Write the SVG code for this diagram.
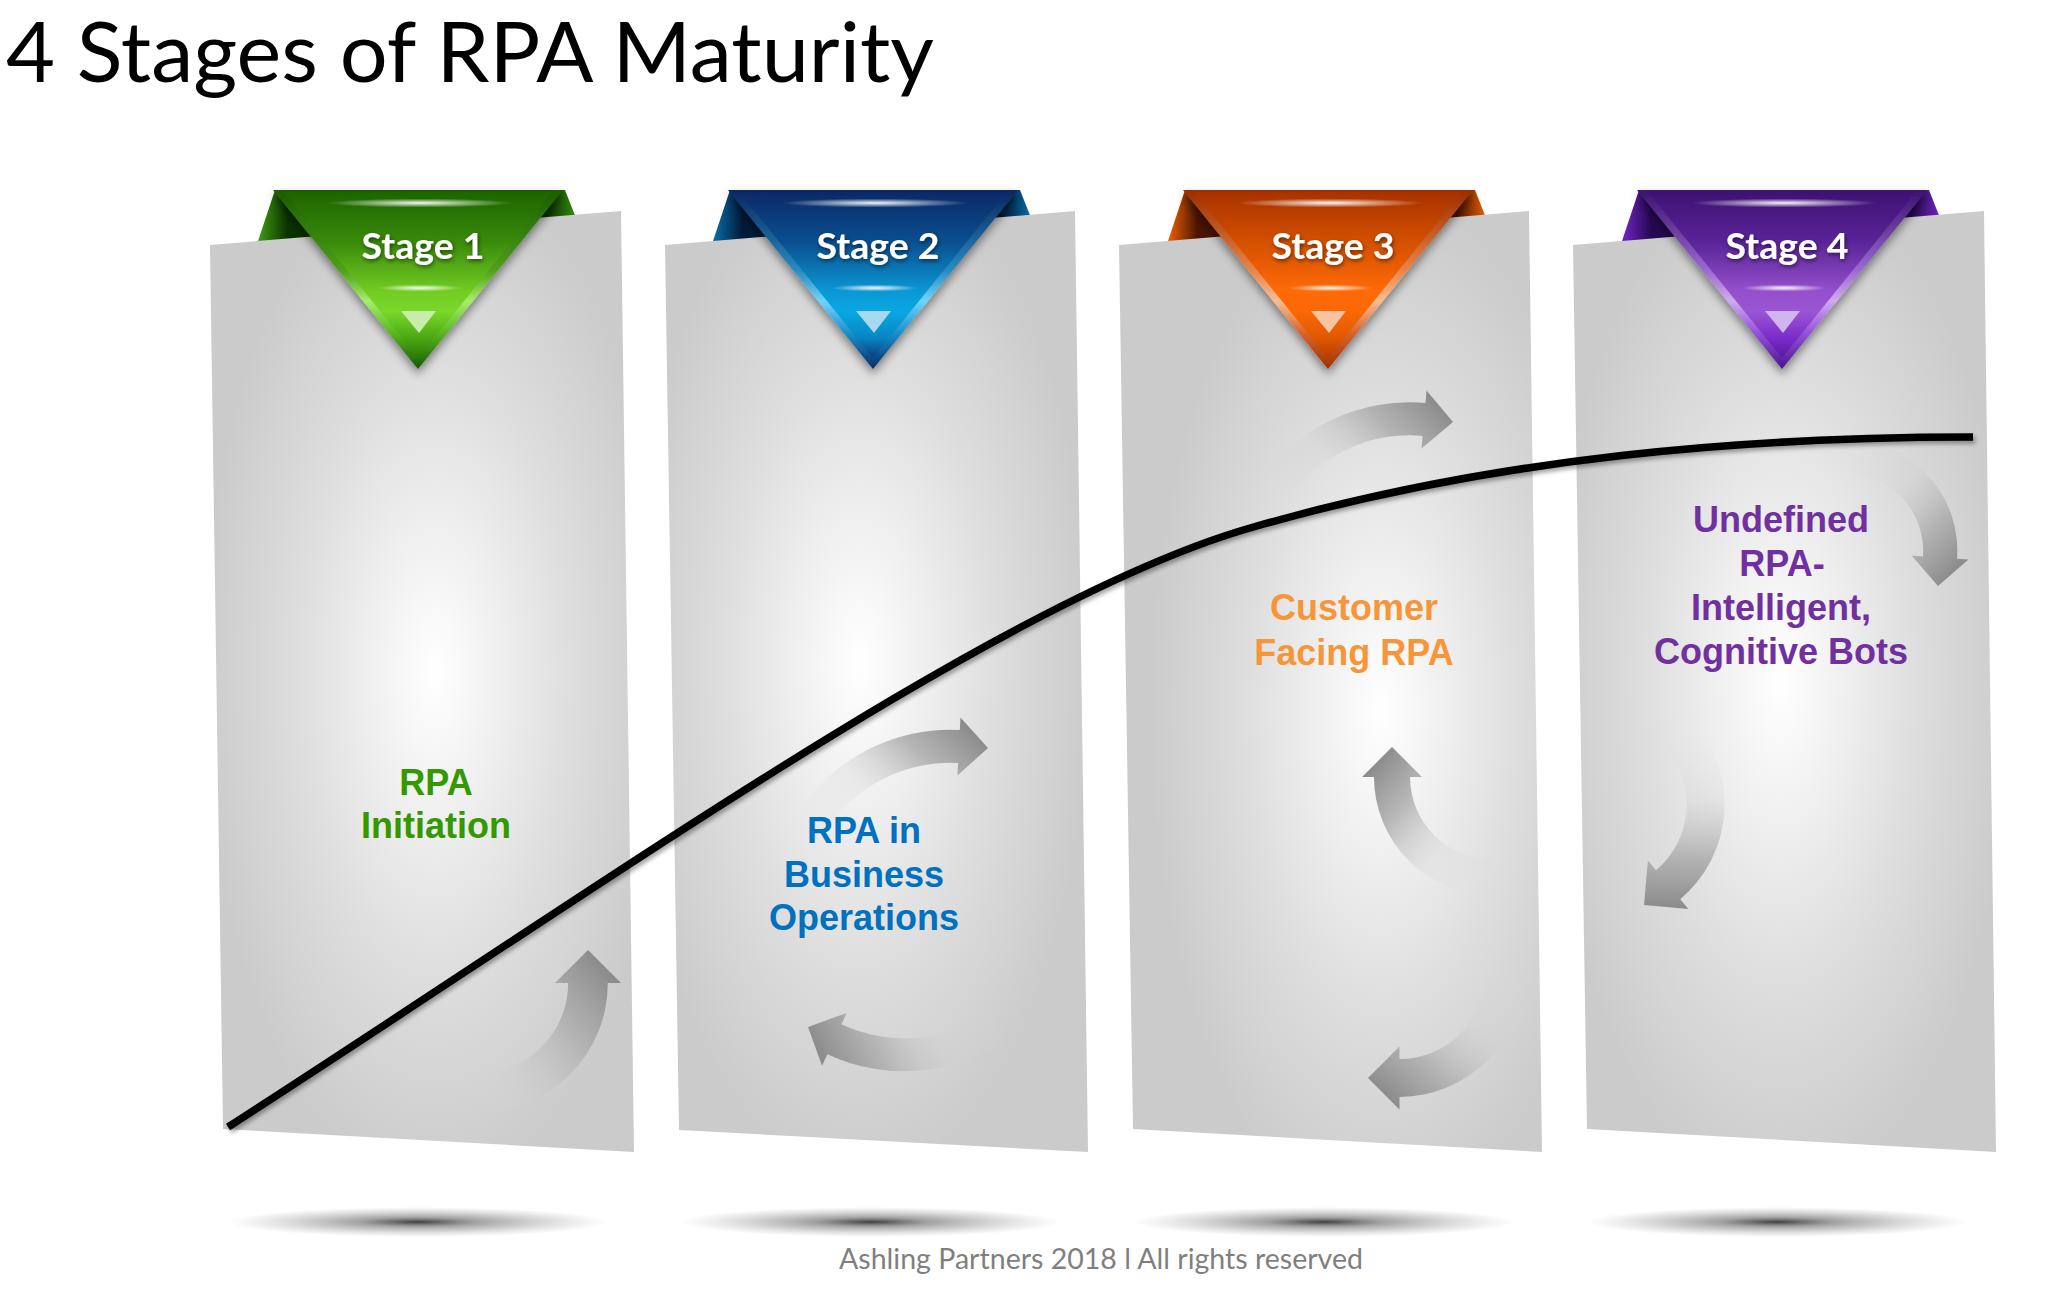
<svg xmlns="http://www.w3.org/2000/svg" width="2049" height="1293" viewBox="0 0 2049 1293">
<defs>
<style>
.title{font-family:Lato,"Liberation Sans",sans-serif;font-size:84px;fill:#000}
.stage{font-family:Lato,"Open Sans",sans-serif;font-weight:bold;font-size:37px;fill:#fff;text-anchor:middle}
.lbl{font-family:"Liberation Sans",Arial,sans-serif;font-weight:bold;font-size:36px;text-anchor:middle}
.foot{font-family:Lato,"Liberation Sans",sans-serif;font-size:29.5px;fill:#7f7f7f}
.hl{fill:url(#hlG)}
.gs{fill:url(#gsG)}
</style>
<filter id="triSh" x="-30%" y="-30%" width="160%" height="170%"><feDropShadow dx="0" dy="5" stdDeviation="5" flood-color="#000" flood-opacity="0.45"/></filter>
<filter id="txtSh" x="-20%" y="-40%" width="140%" height="180%"><feDropShadow dx="1" dy="2" stdDeviation="2" flood-color="#000" flood-opacity="0.55"/></filter>
<filter id="lineSh" x="-5%" y="-10%" width="110%" height="120%"><feDropShadow dx="2" dy="3" stdDeviation="2" flood-color="#000" flood-opacity="0.35"/></filter>
<radialGradient id="hlG"><stop offset="0" stop-color="#fff" stop-opacity="0.95"/><stop offset="1" stop-color="#fff" stop-opacity="0"/></radialGradient>
<radialGradient id="gsG"><stop offset="0" stop-color="#2a2a2a" stop-opacity="0.9"/><stop offset="0.3" stop-color="#555" stop-opacity="0.55"/><stop offset="1" stop-color="#888" stop-opacity="0"/></radialGradient>
<radialGradient id="pg1" cx="0.53" cy="0.49" fx="0.53" fy="0.49" r="0.55"><stop offset="0" stop-color="#fff"/><stop offset="0.25" stop-color="#f1f1f1"/><stop offset="0.6" stop-color="#dddddd"/><stop offset="1" stop-color="#cbcbcb"/></radialGradient>
<radialGradient id="pg2" cx="0.46" cy="0.48" fx="0.46" fy="0.48" r="0.55"><stop offset="0" stop-color="#fff"/><stop offset="0.25" stop-color="#f1f1f1"/><stop offset="0.6" stop-color="#dddddd"/><stop offset="1" stop-color="#cbcbcb"/></radialGradient>
<radialGradient id="pg3" cx="0.62" cy="0.53" fx="0.62" fy="0.53" r="0.55"><stop offset="0" stop-color="#fff"/><stop offset="0.25" stop-color="#f1f1f1"/><stop offset="0.6" stop-color="#dddddd"/><stop offset="1" stop-color="#cbcbcb"/></radialGradient>
<radialGradient id="pg4" cx="0.49" cy="0.5" fx="0.49" fy="0.5" r="0.55"><stop offset="0" stop-color="#fff"/><stop offset="0.25" stop-color="#f1f1f1"/><stop offset="0.6" stop-color="#dddddd"/><stop offset="1" stop-color="#cbcbcb"/></radialGradient>
<linearGradient id="gT" x1="0.1" y1="1" x2="0.95" y2="0.15"><stop offset="0" stop-color="#d8d8d8" stop-opacity="0"/><stop offset="0.35" stop-color="#cfcfcf" stop-opacity="0.25"/><stop offset="0.7" stop-color="#acacac" stop-opacity="0.85"/><stop offset="1" stop-color="#8a8a8a"/></linearGradient>
<linearGradient id="gT1" x1="0.1" y1="1" x2="0.95" y2="0.15"><stop offset="0" stop-color="#d8d8d8" stop-opacity="0.05"/><stop offset="0.2" stop-color="#cfcfcf" stop-opacity="0.3"/><stop offset="0.6" stop-color="#b0b0b0" stop-opacity="0.85"/><stop offset="1" stop-color="#8a8a8a"/></linearGradient>
<linearGradient id="gW" x1="0.05" y1="0.95" x2="1" y2="0.2"><stop offset="0" stop-color="#d8d8d8" stop-opacity="0"/><stop offset="0.35" stop-color="#cfcfcf" stop-opacity="0.25"/><stop offset="0.7" stop-color="#acacac" stop-opacity="0.85"/><stop offset="1" stop-color="#8a8a8a"/></linearGradient>
<path id="arT" d="M -118,0 A 118 118 0 0 1 0,-118 L 0,-130 L 30,-100 L 0,-70 L 0,-82 A 82 82 0 0 0 -82,0 Z" fill="url(#gT)"/>
<path id="arT1" d="M -118,0 A 118 118 0 0 1 0,-118 L 0,-130 L 30,-100 L 0,-70 L 0,-82 A 82 82 0 0 0 -82,0 Z" fill="url(#gT1)"/>
<path id="arW" d="M -161.9,-93.5 A 187 187 0 0 1 0,-187 L 0,-200 L 30,-170 L 0,-140 L 0,-153 A 153 153 0 0 0 -132.5,-76.5 Z" fill="url(#gW)"/>
<linearGradient id="wg1" x1="0" x2="1"><stop offset="0" stop-color="#46a812"/><stop offset="0.1" stop-color="#0a3200"/><stop offset="0.9" stop-color="#0a3200"/><stop offset="1" stop-color="#3a9a0c"/></linearGradient>
<linearGradient id="bg1" x1="0" y1="0" x2="0" y2="1"><stop offset="0" stop-color="#1a5c00"/><stop offset="0.45" stop-color="#4ea01a"/><stop offset="0.62" stop-color="#a6ee6a"/><stop offset="0.8" stop-color="#58b820"/><stop offset="1" stop-color="#175800"/></linearGradient>
<linearGradient id="fg1" x1="0" y1="0" x2="0" y2="1"><stop offset="0" stop-color="#1d6500"/><stop offset="0.3" stop-color="#3a8a0a"/><stop offset="0.6" stop-color="#72cc22"/><stop offset="0.72" stop-color="#7ad82a"/><stop offset="0.88" stop-color="#4aa812"/><stop offset="1" stop-color="#2a7a04"/></linearGradient>
<linearGradient id="wg2" x1="0" x2="1"><stop offset="0" stop-color="#0a78b4"/><stop offset="0.1" stop-color="#021a3a"/><stop offset="0.9" stop-color="#021a3a"/><stop offset="1" stop-color="#0a78b4"/></linearGradient>
<linearGradient id="bg2" x1="0" y1="0" x2="0" y2="1"><stop offset="0" stop-color="#0a2660"/><stop offset="0.45" stop-color="#2a8ac0"/><stop offset="0.62" stop-color="#70d4f8"/><stop offset="0.8" stop-color="#1a90cc"/><stop offset="1" stop-color="#0a2a66"/></linearGradient>
<linearGradient id="fg2" x1="0" y1="0" x2="0" y2="1"><stop offset="0" stop-color="#0b2a66"/><stop offset="0.3" stop-color="#0a4f90"/><stop offset="0.6" stop-color="#0a98d4"/><stop offset="0.72" stop-color="#09a8e2"/><stop offset="0.88" stop-color="#0884c4"/><stop offset="1" stop-color="#0a3c80"/></linearGradient>
<linearGradient id="wg3" x1="0" x2="1"><stop offset="0" stop-color="#ff6a00"/><stop offset="0.1" stop-color="#4a1400"/><stop offset="0.9" stop-color="#4a1400"/><stop offset="1" stop-color="#ff6a00"/></linearGradient>
<linearGradient id="bg3" x1="0" y1="0" x2="0" y2="1"><stop offset="0" stop-color="#9a2e00"/><stop offset="0.45" stop-color="#e8844a"/><stop offset="0.62" stop-color="#f9bc92"/><stop offset="0.8" stop-color="#d8642a"/><stop offset="1" stop-color="#a03000"/></linearGradient>
<linearGradient id="fg3" x1="0" y1="0" x2="0" y2="1"><stop offset="0" stop-color="#a83200"/><stop offset="0.3" stop-color="#d45000"/><stop offset="0.6" stop-color="#ff6a08"/><stop offset="0.72" stop-color="#fb6806"/><stop offset="0.88" stop-color="#e05800"/><stop offset="1" stop-color="#b53c00"/></linearGradient>
<linearGradient id="wg4" x1="0" x2="1"><stop offset="0" stop-color="#7a28d0"/><stop offset="0.1" stop-color="#250850"/><stop offset="0.9" stop-color="#250850"/><stop offset="1" stop-color="#7a28d0"/></linearGradient>
<linearGradient id="bg4" x1="0" y1="0" x2="0" y2="1"><stop offset="0" stop-color="#3c1270"/><stop offset="0.45" stop-color="#9a6ad0"/><stop offset="0.62" stop-color="#ceaaf0"/><stop offset="0.8" stop-color="#9450d8"/><stop offset="1" stop-color="#4a1690"/></linearGradient>
<linearGradient id="fg4" x1="0" y1="0" x2="0" y2="1"><stop offset="0" stop-color="#3e1272"/><stop offset="0.3" stop-color="#5a2498"/><stop offset="0.6" stop-color="#9450cc"/><stop offset="0.72" stop-color="#9a55d2"/><stop offset="0.88" stop-color="#7a2ccc"/><stop offset="1" stop-color="#5a18a0"/></linearGradient>
</defs>

<rect width="2049" height="1293" fill="#fff"/>
<text class="title" x="6" y="82" textLength="928" lengthAdjust="spacingAndGlyphs">4 Stages of RPA Maturity</text>

<g id="ground-shadows">
<ellipse class="gs" cx="418" cy="1222" rx="190" ry="15"/>
<ellipse class="gs" cx="871" cy="1222" rx="190" ry="15"/>
<ellipse class="gs" cx="1324" cy="1222" rx="190" ry="15"/>
<ellipse class="gs" cx="1777" cy="1222" rx="190" ry="15"/>
</g>

<g id="stage1">
<polygon transform="translate(418,0)" points="-163,250 -143,190 147,190 162,228" fill="url(#wg1)"/>
<polygon points="210,245 621,211 634,1152 223,1129" fill="url(#pg1)"/>
<use href="#arT1" transform="translate(588,950) rotate(-90) scale(1.1,-1.1) translate(-30,100)"/>
<g transform="translate(418,0)">
<polygon points="-145,190 145,190 0,369" fill="url(#bg1)" filter="url(#triSh)"/>
<polygon points="-134,192 134,192 0,358" fill="url(#fg1)"/>
<ellipse class="hl" cx="2" cy="203" rx="93" ry="4.5"/>
<ellipse class="hl" cx="2" cy="288" rx="43" ry="3.5"/>
<polygon points="-17,311 18,311 1,333" fill="#c6eeaa"/>
<text class="stage" x="5" y="259" textLength="123" lengthAdjust="spacingAndGlyphs" filter="url(#txtSh)">Stage 1</text>
</g>
<text class="lbl" fill="#339900"><tspan x="436" y="795">RPA</tspan><tspan x="436" y="838">Initiation</tspan></text>
</g>

<g id="stage2">
<polygon transform="translate(873,0)" points="-163,250 -143,190 147,190 162,228" fill="url(#wg2)"/>
<polygon points="665,245 1075,211 1088,1152 679,1130" fill="url(#pg2)"/>
<use href="#arW" transform="translate(988,748) rotate(3) scale(0.97) translate(-30,170)"/>
<use href="#arW" transform="translate(808,1027) rotate(205) scale(0.97) translate(-30,170)"/>
<g transform="translate(873,0)">
<polygon points="-145,190 145,190 0,369" fill="url(#bg2)" filter="url(#triSh)"/>
<polygon points="-134,192 134,192 0,358" fill="url(#fg2)"/>
<ellipse class="hl" cx="2" cy="203" rx="93" ry="4.5"/>
<ellipse class="hl" cx="2" cy="288" rx="43" ry="3.5"/>
<polygon points="-17,311 18,311 1,333" fill="#a6d8ee"/>
<text class="stage" x="5" y="259" textLength="123" lengthAdjust="spacingAndGlyphs" filter="url(#txtSh)">Stage 2</text>
</g>
<text class="lbl" fill="#0070c0"><tspan x="864" y="843">RPA in</tspan><tspan x="864" y="887">Business</tspan><tspan x="864" y="930">Operations</tspan></text>
</g>

<g id="stage3">
<polygon transform="translate(1328,0)" points="-163,250 -143,190 147,190 162,228" fill="url(#wg3)"/>
<polygon points="1119,245 1529,211 1542,1152 1133,1129" fill="url(#pg3)"/>
<use href="#arW" transform="translate(1453,422) rotate(5) scale(0.97) translate(-30,170)"/>
<use href="#arT" transform="translate(1392,747) rotate(-90) translate(-30,100)"/>
<use href="#arT" transform="translate(1368,1078) rotate(180) scale(1.05) translate(-30,100)"/>
<g transform="translate(1328,0)">
<polygon points="-145,190 145,190 0,369" fill="url(#bg3)" filter="url(#triSh)"/>
<polygon points="-134,192 134,192 0,358" fill="url(#fg3)"/>
<ellipse class="hl" cx="2" cy="203" rx="93" ry="4.5"/>
<ellipse class="hl" cx="2" cy="288" rx="43" ry="3.5"/>
<polygon points="-17,311 18,311 1,333" fill="#f6c4a3"/>
<text class="stage" x="5" y="259" textLength="123" lengthAdjust="spacingAndGlyphs" filter="url(#txtSh)">Stage 3</text>
</g>
<text class="lbl" fill="#f79638"><tspan x="1354" y="620">Customer</tspan><tspan x="1354" y="665">Facing RPA</tspan></text>
</g>

<g id="stage4">
<polygon transform="translate(1782,0)" points="-163,250 -143,190 147,190 162,228" fill="url(#wg4)"/>
<polygon points="1573,245 1984,211 1996,1152 1587,1129" fill="url(#pg4)"/>
<use href="#arT" transform="translate(1938,586) rotate(94) scale(0.95) translate(-30,100)"/>
<use href="#arT" transform="translate(1644,905) rotate(140) scale(1.05) translate(-30,100)"/>
<g transform="translate(1782,0)">
<polygon points="-145,190 145,190 0,369" fill="url(#bg4)" filter="url(#triSh)"/>
<polygon points="-134,192 134,192 0,358" fill="url(#fg4)"/>
<ellipse class="hl" cx="2" cy="203" rx="93" ry="4.5"/>
<ellipse class="hl" cx="2" cy="288" rx="43" ry="3.5"/>
<polygon points="-17,311 18,311 1,333" fill="#d2b4ee"/>
<text class="stage" x="5" y="259" textLength="123" lengthAdjust="spacingAndGlyphs" filter="url(#txtSh)">Stage 4</text>
</g>
<text class="lbl" fill="#7030a0"><tspan x="1781" y="532">Undefined</tspan><tspan x="1782" y="576">RPA-</tspan><tspan x="1781" y="620">Intelligent,</tspan><tspan x="1781" y="664">Cognitive Bots</tspan></text>
</g>

<g id="connectors">
<path d="M228,1127 C600,888 1000,600 1250,528 C1500,456 1750,437 1973,437" fill="none" stroke="#000" stroke-width="7.5" filter="url(#lineSh)"/>
</g>

<text class="foot" x="839" y="1269" textLength="524" lengthAdjust="spacingAndGlyphs">Ashling Partners 2018 l All rights reserved</text>
</svg>
